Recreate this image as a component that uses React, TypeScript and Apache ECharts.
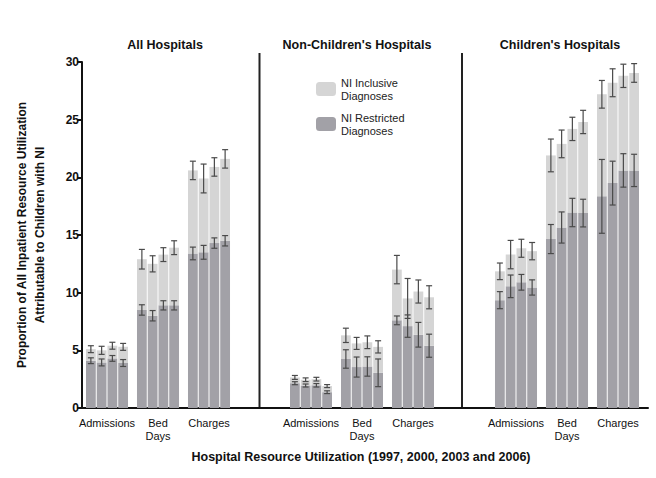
import React, { useEffect, useRef } from 'react';
import * as echarts from 'echarts';

const panels = ['All Hospitals', "Non-Children's Hospitals", "Children's Hospitals"];
const categories = ['Admissions', 'Bed\nDays', 'Charges'];
const years = ['1997', '2000', '2003', '2006'];
const legendNames = ['NI Inclusive Diagnoses', 'NI Restricted Diagnoses'];
const yTitle = ['Proportion of All Inpatient Resource Utilization', 'Attributable to Children with NI'];
const xTitle = 'Hospital Resource Utilization (1997, 2000, 2003 and 2006)';

// [category][year]
const allInclusive = [[5.1, 5.0, 5.4, 5.3], [12.9, 12.5, 13.3, 13.9], [20.6, 19.9, 20.9, 21.6]];
const allInclusiveErr = [[0.3, 0.35, 0.3, 0.3], [0.85, 0.7, 0.6, 0.6], [0.8, 1.25, 0.8, 0.8]];
const allRestricted = [[4.1, 3.95, 4.3, 3.9], [8.5, 8.0, 8.9, 8.9], [13.4, 13.5, 14.3, 14.5]];
const allRestrictedErr = [[0.25, 0.3, 0.25, 0.3], [0.45, 0.45, 0.4, 0.4], [0.55, 0.6, 0.45, 0.45]];

const nonInclusive = [[2.65, 2.45, 2.5, 1.9], [6.3, 5.6, 5.7, 5.3], [12.0, 9.5, 10.1, 9.6]];
const nonInclusiveErr = [[0.17, 0.16, 0.16, 0.13], [0.62, 0.52, 0.55, 0.53], [1.23, 1.73, 1.0, 1.0]];
const nonRestricted = [[2.15, 1.95, 1.97, 1.37], [4.25, 3.55, 3.6, 3.05], [7.6, 7.1, 6.35, 5.4]];
const nonRestrictedErr = [[0.13, 0.13, 0.15, 0.12], [0.8, 0.87, 0.84, 1.2], [0.38, 0.97, 1.07, 1.0]];

const childInclusive = [[11.85, 13.3, 13.85, 13.6], [21.9, 22.9, 24.2, 24.8], [27.2, 28.2, 28.8, 29.05]];
const childInclusiveErr = [[0.72, 1.23, 0.78, 0.75], [1.42, 1.2, 1.01, 1.01], [1.2, 1.21, 1.01, 0.81]];
const childRestricted = [[9.35, 10.55, 10.9, 10.45], [14.65, 15.65, 16.95, 16.9], [18.35, 19.5, 20.6, 20.6]];
const childRestrictedErr = [[0.74, 0.98, 0.68, 0.66], [1.26, 1.35, 1.23, 1.2], [3.2, 1.9, 1.45, 1.4]];

const inclusive = [allInclusive, nonInclusive, childInclusive];
const inclusiveErr = [allInclusiveErr, nonInclusiveErr, childInclusiveErr];
const restricted = [allRestricted, nonRestricted, childRestricted];
const restrictedErr = [allRestrictedErr, nonRestrictedErr, childRestrictedErr];

const LIGHT = '#d5d5d5';
const DARK = '#a2a1a7';
const CAT_GAP = 0.176;
const BAR_GAP = 0.1;
const FONT = 'Liberation Sans, Arial, sans-serif';

const gridLefts = [81.5, 285.5, 490.5];
const titleCenters = [165, 357, 560];
const separators = [259.5, 462];

function errorRender(_params: any, api: any) {
  const cat = api.value(0);
  const yr = api.value(1);
  const v = api.value(2);
  const e = api.value(3);
  const band = api.size([1, 0])[0];
  const barW = (band * (1 - CAT_GAP)) / (4 + 3 * BAR_GAP);
  const groupW = 4 * barW + 3 * barW * BAR_GAP;
  const base = api.coord([cat, v]);
  const cx = base[0] - groupW / 2 + yr * barW * (1 + BAR_GAP) + barW / 2;
  const yt = api.coord([cat, v + e])[1];
  const yb = api.coord([cat, v - e])[1];
  const cap = 3;
  const style = { stroke: '#4a4a4a', lineWidth: 1.2 };
  return {
    type: 'group',
    children: [
      { type: 'line', shape: { x1: cx, y1: yt, x2: cx, y2: yb }, style },
      { type: 'line', shape: { x1: cx - cap, y1: yt, x2: cx + cap, y2: yt }, style },
      { type: 'line', shape: { x1: cx - cap, y1: yb, x2: cx + cap, y2: yb }, style },
    ],
  };
}

export default function App() {
  const ref = useRef<HTMLDivElement>(null);
  useEffect(() => {
    if (!ref.current) return;
    const chart = echarts.init(ref.current, null, { renderer: 'svg' });

    const grids: any[] = [{ left: 82, top: 62, width: 566, height: 346 }];
    const xAxes: any[] = [
      {
        gridIndex: 0, type: 'value', min: 0, max: 1,
        axisLine: { show: true, lineStyle: { color: '#111', width: 2 } },
        axisTick: { show: false }, axisLabel: { show: false }, splitLine: { show: false },
      },
    ];
    const yAxes: any[] = [
      {
        gridIndex: 0, type: 'value', min: 0, max: 30, interval: 5,
        axisLine: { show: true, lineStyle: { color: '#111', width: 2 } },
        axisTick: { show: true, length: 5, lineStyle: { color: '#111', width: 2 } },
        axisLabel: { color: '#111', fontSize: 12, fontWeight: 'bold', fontFamily: FONT, margin: 3 },
        splitLine: { show: false },
      },
    ];
    const series: any[] = [];

    panels.forEach((_p, pi) => {
      const gi = pi + 1;
      grids.push({ left: gridLefts[pi], top: 62, width: 153, height: 346 });
      xAxes.push({
        gridIndex: gi, type: 'category', data: categories,
        axisLine: { show: false }, axisTick: { show: false }, splitLine: { show: false },
        axisLabel: { interval: 0, color: '#111', fontSize: 11, fontFamily: FONT, margin: 8, lineHeight: 13 },
      });
      yAxes.push({ gridIndex: gi, type: 'value', min: 0, max: 30, show: false, splitLine: { show: false } });
      years.forEach((_y, yi) => {
        const stack = `p${pi}-y${yi}`;
        series.push({
          type: 'bar', name: legendNames[1], xAxisIndex: gi, yAxisIndex: gi, stack,
          barCategoryGap: `${CAT_GAP * 100}%`, barGap: `${BAR_GAP * 100}%`,
          itemStyle: { color: DARK }, emphasis: { disabled: true },
          data: restricted[pi].map((c) => c[yi]),
        });
        series.push({
          type: 'bar', name: legendNames[0], xAxisIndex: gi, yAxisIndex: gi, stack,
          barCategoryGap: `${CAT_GAP * 100}%`, barGap: `${BAR_GAP * 100}%`,
          itemStyle: { color: LIGHT }, emphasis: { disabled: true },
          data: inclusive[pi].map((c, ci) => +(c[yi] - restricted[pi][ci][yi]).toFixed(3)),
        });
      });
      const errData: number[][] = [];
      categories.forEach((_c, ci) => {
        years.forEach((_y, yi) => {
          errData.push([ci, yi, inclusive[pi][ci][yi], inclusiveErr[pi][ci][yi]]);
          errData.push([ci, yi, restricted[pi][ci][yi], restrictedErr[pi][ci][yi]]);
        });
      });
      series.push({
        type: 'custom', name: 'err' + pi, xAxisIndex: gi, yAxisIndex: gi, z: 5,
        renderItem: errorRender, data: errData, encode: { x: 0, y: 2 }, silent: true,
      });
    });

    const graphics: any[] = [];
    separators.forEach((x) => {
      graphics.push({ type: 'line', shape: { x1: x, y1: 53, x2: x, y2: 408 }, style: { stroke: '#222', lineWidth: 2 } });
    });
    panels.forEach((p, pi) => {
      graphics.push({
        type: 'text', x: titleCenters[pi], y: 45,
        style: { text: p, fill: '#111', font: `bold 12.5px ${FONT}`, textAlign: 'center', textVerticalAlign: 'middle' },
      });
    });
    graphics.push({
      type: 'text', x: 31, y: 235, rotation: Math.PI / 2,
      style: {
        text: yTitle.join('\n'), fill: '#111', font: `bold 12px ${FONT}`, lineHeight: 18,
        textAlign: 'center', textVerticalAlign: 'middle',
      },
    });
    graphics.push({
      type: 'text', x: 361, y: 457,
      style: { text: xTitle, fill: '#111', font: `bold 12.5px ${FONT}`, textAlign: 'center', textVerticalAlign: 'middle' },
    });

    chart.setOption({
      animation: false,
      backgroundColor: '#fff',
      grid: grids,
      xAxis: xAxes,
      yAxis: yAxes,
      series,
      graphic: graphics,
      legend: {
        orient: 'vertical', left: 311, top: 71, itemWidth: 20, itemHeight: 14, itemGap: 9,
        selectedMode: false,
        data: legendNames.map((n) => ({ name: n, icon: 'roundRect' })),
        formatter: (n: string) => n.replace(' Diagnoses', '\nDiagnoses'),
        textStyle: { fontSize: 11, lineHeight: 13, color: '#222', fontFamily: FONT },
      },
    });
    return () => chart.dispose();
  }, []);
  return <div ref={ref} style={{ position: 'absolute', left: 0, top: 0, width: 656, height: 478 }} />;
}
